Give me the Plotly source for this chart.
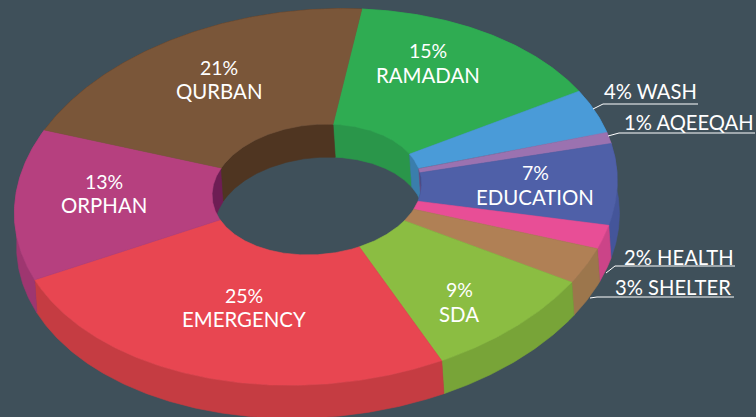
import numpy as np
import plotly.graph_objects as go

names = ["RAMADAN", "WASH", "AQEEQAH", "EDUCATION", "HEALTH", "SHELTER", "SDA", "EMERGENCY", "ORPHAN", "QURBAN"]
percent = [15, 4, 1, 7, 2, 3, 9, 25, 13, 21]

top_colors = ["#2fac52", "#4a9bd8", "#9b72b0", "#4f60a8", "#e84e96", "#b08055", "#8bbd42", "#e84651", "#b6407f", "#7a5639"]
wall_colors = ["#2a964a", "#3a7eac", "#7d5a90", "#44559a", "#cb4488", "#9c764c", "#78a438", "#c53c42", "#9e3670", "#4f3521"]
inner_wall_colors = ["#2a964a", "#3a7eac", "#6b4c80", "#3c4c8c", "#cb4488", "#9c764c", "#78a438", "#c53c42", "#6e1d54", "#4f3521"]

BG = "#3f505a"
START = 4.0
CX, CY, R, RY, K, SHEAR = 317.0, 188.5, 300.0, 188.0, 0.045, 26.0
HOLE = 0.348
DEPTH, DX = 33.0, 2.2


def arc(t0, t1, r, z=0.0):
    t = np.radians(np.linspace(t0, t1, max(int(abs(t1 - t0) * 2), 3)))
    u, v = r * np.sin(t), r * np.cos(t)
    d = 1 + K * v
    return CX + (R * u + SHEAR * v) / d + DX * z / DEPTH, CY - RY * v / d + z


def poly(xa, ya, xb, yb, color):
    x = np.r_[xa, xb[::-1], xa[0]]
    y = np.r_[ya, yb[::-1], ya[0]]
    return go.Scatter(x=x, y=y, mode="lines", fill="toself", fillcolor=color,
                      line=dict(color=color, width=0.6), hoverinfo="skip", showlegend=False)


edges = START + np.r_[0, np.cumsum(percent)] * 3.6
fig = go.Figure()

# outer walls
for i in range(len(names)):
    xa, ya = arc(edges[i], edges[i + 1], 1.0)
    xb, yb = arc(edges[i], edges[i + 1], 1.0, DEPTH)
    fig.add_trace(poly(xa, ya, xb, yb, wall_colors[i]))

# inner walls (far half of the hole)
for i in range(len(names)):
    for lo, hi in ((-100, 100), (260, 460)):
        a, b = max(edges[i], lo), min(edges[i + 1], hi)
        if b > a:
            xa, ya = arc(a, b, HOLE)
            xb, yb = arc(a, b, HOLE, DEPTH)
            fig.add_trace(poly(xa, ya, xb, yb, inner_wall_colors[i]))

# top faces
for i in range(len(names)):
    xa, ya = arc(edges[i], edges[i + 1], 1.0)
    xb, yb = arc(edges[i], edges[i + 1], HOLE)
    fig.add_trace(poly(xa, ya, xb, yb, top_colors[i]))

PCT = dict(family="Lato", size=19.5, color="#ffffff")
NAME = dict(family="Lato", size=20.4, color="#ffffff")
OUT = dict(family="Lato", size=20.2, color="#ffffff")
inside = {"RAMADAN": (428, 50, 75), "EDUCATION": (535, 172, 197), "SDA": (459, 289, 314),
          "EMERGENCY": (244, 295, 319), "ORPHAN": (104, 181, 205), "QURBAN": (219, 67, 91)}
outside = {"WASH": (650, 91), "AQEEQAH": (688.5, 122), "HEALTH": (679, 257), "SHELTER": (673, 287)}
for n, p in zip(names, percent):
    if n in inside:
        x, y1, y2 = inside[n]
        fig.add_annotation(x=x, y=y1, text=f"{p}%", showarrow=False, font=PCT)
        fig.add_annotation(x=x, y=y2, text=n, showarrow=False, font=NAME)
    else:
        x, y = outside[n]
        fig.add_annotation(x=x, y=y, text=f"{p}% {n}", showarrow=False, font=OUT)

leaders = [[(593, 109), (603, 104), (698, 104)], [(608, 136), (619, 133), (755, 133)],
           [(606, 273), (615, 266), (735, 266)], [(590, 298), (597, 297), (734, 297)]]
shapes = []
for pts in leaders:
    path = "M " + " L ".join(f"{a},{b}" for a, b in pts)
    shapes.append(dict(type="path", path=path, line=dict(color="#ffffff", width=1)))

fig.update_layout(width=756, height=417, margin=dict(l=0, r=0, t=0, b=0), autosize=False,
                  paper_bgcolor=BG, plot_bgcolor=BG, shapes=shapes, showlegend=False,
                  xaxis=dict(visible=False, range=[0, 756], fixedrange=True),
                  yaxis=dict(visible=False, range=[417, 0], fixedrange=True))

fig.write_html("out.html", config={"displayModeBar": False},
               post_script="document.body.style.margin='0';document.body.style.background='" + BG + "';")
